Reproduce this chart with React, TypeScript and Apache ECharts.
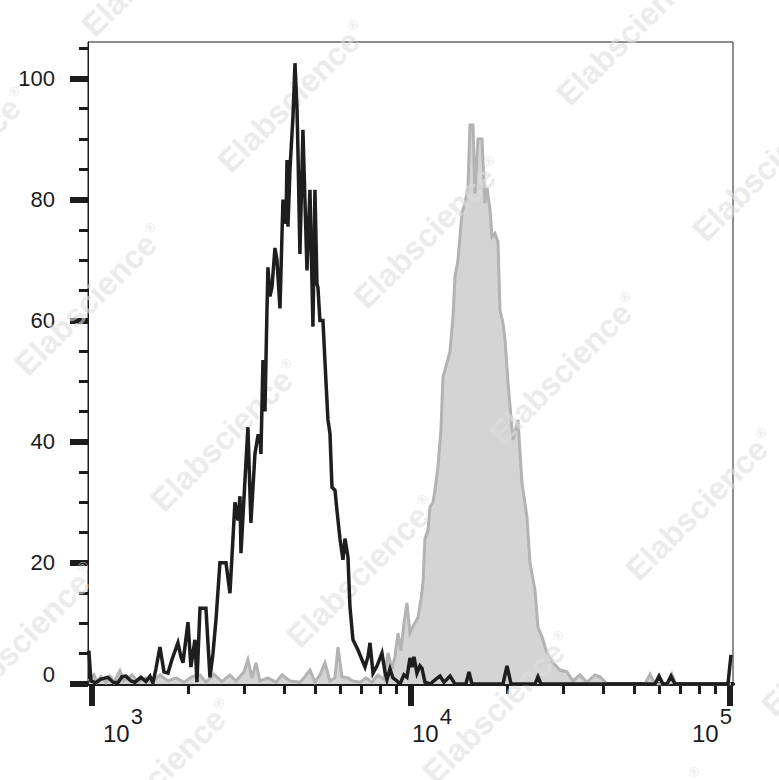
import React, { useEffect, useRef } from "react";
import * as echarts from "echarts";

// ---- axis ticks (intensity values / counts) ----
const X_MAJOR = [1000, 10000, 100000];
const X_MINOR = [2000, 3000, 4000, 5000, 6000, 7000, 8000, 9000, 20000, 30000, 40000, 50000, 60000, 70000, 80000, 90000];
const Y_MAJOR = [0, 20, 40, 60, 80, 100];
const Y_MINOR = [5, 10, 15, 25, 30, 35, 45, 50, 55, 65, 70, 75, 85, 90, 95, 105];
const X_MIN = 972;
const X_MAX = 102200;
const Y_MAX = 106;

// ---- black histogram (control, outline only) ----
const BLACK_X = [978, 993, 1029, 1067, 1122, 1164, 1206, 1242, 1278, 1325, 1364, 1424, 1477, 1520, 1553, 1587, 1634, 1682, 1731, 1781, 1860, 1901, 1929, 2000, 2043, 2103, 2134, 2181, 2277, 2344, 2395, 2448, 2519, 2631, 2708, 2767, 2807, 2869, 2911, 2932, 3018, 3083, 3150, 3243, 3314, 3362, 3387, 3436, 3486, 3537, 3562, 3614, 3667, 3747, 3802, 3885, 3970, 4057, 4087, 4116, 4176, 4267, 4330, 4393, 4424, 4487, 4586, 4652, 4721, 4824, 4929, 5001, 5074, 5110, 5184, 5298, 5414, 5493, 5573, 5655, 5779, 5861, 5990, 6121, 6211, 6346, 6440, 6580, 6823, 7023, 7177, 7334, 7441, 7604, 7827, 8112, 8289, 8410, 8595, 8783, 9040, 9237, 9508, 9716, 9929, 10072, 10219, 10442, 10671, 10826, 11063, 11470, 11980, 12330, 12690, 13260, 13740, 14870, 15200, 15530, 19430, 20000, 20590, 24480, 25010, 25560, 58210, 59910, 61660, 63450, 65310, 67230, 98560, 100720];
const BLACK_Y = [5.5, 0.5, 0.2, 0.8, 1.1, 0.3, 0.2, 1.2, 1.3, 0.5, 0.3, 1.1, 0.4, 1.3, 0.2, 2.5, 6.1, 2.0, 1.8, 4.0, 6.8, 4.5, 3.5, 10.2, 2.8, 7.3, 0.3, 12.5, 12.5, 1.1, 5.0, 10.6, 20, 20, 15, 24, 30, 27, 31, 21.6, 33.7, 42.4, 26.6, 38, 41, 41, 38, 53.5, 45, 61.7, 68.8, 64, 65.5, 72, 70, 62, 80, 76, 86.5, 75.5, 85, 93.6, 102.5, 95, 88, 71, 91.5, 80, 68.3, 81.6, 59, 81.6, 66, 65.5, 60, 60, 50, 43.6, 41.4, 32.5, 32, 28.7, 24, 20.5, 24, 21, 12.7, 7.3, 5.6, 4, 2.8, 4.5, 6.8, 1.8, 3.0, 5.1, 2.0, 0.7, 2.5, 1.0, 0.5, 0, 1.5, 1.1, 4.3, 2.8, 4.5, 1.8, 3.0, 2.6, 0.3, 0, 0.8, 1.3, 0.3, 1.3, 0, 0, 2.0, 0, 0, 3.0, 0, 0, 1.2, 0, 0, 1.3, 0, 0, 1.3, 0, 0, 4.8];

// ---- grey histogram (stained sample, filled) ----
const GREY_X = [978, 1015, 1037, 1067, 1106, 1139, 1172, 1224, 1260, 1335, 1394, 1477, 1542, 1634, 1731, 1834, 1943, 2059, 2181, 2277, 2412, 2556, 2708, 2827, 2996, 3083, 3174, 3267, 3362, 3562, 3774, 3941, 4176, 4487, 4652, 4824, 5001, 5184, 5376, 5573, 5779, 5904, 6076, 6346, 6580, 6921, 7227, 7547, 7880, 8230, 8472, 8718, 8909, 9104, 9304, 9508, 9716, 9929, 10146, 10518, 10750, 10905, 11063, 11305, 11470, 11722, 11890, 12150, 12417, 12598, 12968, 13260, 13545, 13740, 14040, 14455, 14770, 15090, 15310, 15650, 15870, 16220, 16700, 17060, 17310, 17690, 17950, 18340, 18740, 19010, 19430, 19710, 20150, 20880, 21650, 22280, 23100, 23610, 24480, 25010, 25750, 26690, 27880, 29320, 30830, 32200, 33870, 35620, 37740, 39130, 41160, 54140, 56140, 58210, 63910, 65800, 67720, 100720];
const GREY_Y = [0.5, 1.5, 0.3, 1.2, 0.2, 1.3, 0.3, 2.2, 0.5, 1.5, 0.3, 1.0, 0.3, 1.5, 0.5, 1.0, 0.3, 1.2, 1.5, 0.3, 1.6, 0.4, 1.5, 0.5, 2.0, 4.0, 1.0, 3.5, 0.5, 1.0, 0.3, 1.5, 0.5, 0.3, 1.2, 2.3, 0.3, 1.5, 3.5, 0.5, 1.0, 6.1, 1.2, 1.0, 0.5, 0.3, 1.0, 0.3, 1.5, 0.8, 5.1, 2.5, 4.5, 8.4, 5.5, 10, 13.4, 8.4, 9.5, 11, 14, 16.7, 24, 25.4, 29.2, 30, 32, 35.8, 42, 50.7, 53, 55, 60.6, 67.2, 70, 77.8, 79.4, 82, 92.3, 92.3, 81, 90, 90, 79.4, 82, 78.3, 73.8, 74.4, 73, 61.7, 59.6, 57, 49.7, 40.3, 43.6, 33.2, 27.6, 20, 15.5, 9.4, 7.8, 5.1, 3.5, 2.3, 2.0, 0.5, 1.5, 0.3, 1.5, 1.2, 0, 0, 1.6, 0, 0, 1.6, 0, 0];

const WATERMARK = "Elabscience";

const lg = (v: number) => Math.log10(v);

export default function App() {
  const ref = useRef<HTMLDivElement>(null);

  useEffect(() => {
    if (!ref.current) return;
    const chart = echarts.init(ref.current, undefined, { renderer: "svg" });

    const ink = "#1c1c1c";
    const font = '"Liberation Sans", Arial, sans-serif';

    // watermark lattice (as in the reference, copies at the page edges are cut)
    const wm: any[] = [];
    for (let i = -3; i <= 5; i++) {
      for (let j = -3; j <= 4; j++) {
        const cx = 90 + 136 * i + 203 * j;
        const cy = 300 + 136 * i - 203 * j;
        if (cx > -130 && cx < 910 && cy > -130 && cy < 910) {
          wm.push({
            type: "text",
            x: cx,
            y: cy,
            rotation: Math.PI / 4,
            z: 2,
            silent: true,
            style: {
              text: "{a|" + WATERMARK + "}{r|®}",
              align: "center",
              verticalAlign: "middle",
              rich: {
                a: { fontSize: 32, fontWeight: "bold", fontFamily: font, fill: "rgba(222,222,222,0.6)" },
                r: { fontSize: 14, fontWeight: "bold", fontFamily: font, fill: "rgba(222,222,222,0.6)", padding: [0, 0, 18, 2] },
              },
            },
          });
        }
      }
    }

    const xRich: any = {};
    const xPad: Record<number, [number, number]> = { 3: [62, 0], 4: [42, 0], 5: [0, 36] };
    [3, 4, 5].forEach((e) => {
      xRich["b" + e] = { fontSize: 24, fontFamily: font, color: ink, padding: [0, 0, 0, xPad[e][0]] };
      xRich["s" + e] = { fontSize: 22, fontFamily: font, color: ink, padding: [0, xPad[e][1], 34, 1] };
    });

    const option: any = {
      animation: false,
      backgroundColor: "#ffffff",
      grid: { left: 88, right: 46, top: 42, bottom: 96, show: true, borderColor: ink, borderWidth: 1, backgroundColor: "transparent" },
      xAxis: [
        {
          type: "value",
          min: lg(X_MIN),
          max: lg(X_MAX),
          position: "bottom",
          axisLine: { show: true, onZero: false, lineStyle: { color: ink, width: 4 } },
          axisTick: { show: true, customValues: X_MAJOR.map(lg), length: 22, lineStyle: { color: ink, width: 6 } },
          axisLabel: {
            show: true,
            customValues: X_MAJOR.map(lg),
            margin: 21,
            formatter: (v: number) => {
              const e = Math.round(v);
              return "{b" + e + "|10}{s" + e + "|" + e + "}";
            },
            rich: xRich,
          },
          splitLine: { show: false },
        },
        {
          type: "value",
          min: lg(X_MIN),
          max: lg(X_MAX),
          position: "bottom",
          axisLine: { show: false, onZero: false },
          axisTick: { show: true, customValues: X_MINOR.map(lg), length: 10, lineStyle: { color: ink, width: 3 } },
          axisLabel: { show: false },
          splitLine: { show: false },
        },
      ],
      yAxis: [
        {
          type: "value",
          min: 0,
          max: Y_MAX,
          position: "left",
          axisLine: { show: true, onZero: false, lineStyle: { color: ink, width: 1 } },
          axisTick: { show: true, customValues: Y_MAJOR, length: 18, lineStyle: { color: ink, width: 6 } },
          axisLabel: {
            show: true,
            customValues: Y_MAJOR,
            margin: 33,
            formatter: (v: number) => (v === 0 ? "{z|0}" : "{n|" + v + "}"),
            rich: {
              z: { fontSize: 22, fontFamily: font, color: ink, padding: [0, 0, 20, 0] },
              n: { fontSize: 22, fontFamily: font, color: ink },
            },
          },
          splitLine: { show: false },
        },
        {
          type: "value",
          min: 0,
          max: Y_MAX,
          position: "left",
          axisLine: { show: false, onZero: false },
          axisTick: { show: true, customValues: Y_MINOR, length: 9, lineStyle: { color: ink, width: 3 } },
          axisLabel: { show: false },
          splitLine: { show: false },
        },
      ],
      graphic: { elements: wm },
      series: [
        {
          name: "stained",
          type: "line",
          xAxisIndex: 0,
          yAxisIndex: 0,
          z: 1,
          showSymbol: false,
          symbol: "none",
          clip: true,
          data: GREY_X.map((x, i) => [lg(x), GREY_Y[i]]),
          lineStyle: { color: "#b3b3b3", width: 3, join: "miter" },
          areaStyle: { color: "#d4d4d4", opacity: 1 },
        },
        {
          name: "control",
          type: "line",
          xAxisIndex: 0,
          yAxisIndex: 0,
          z: 3,
          showSymbol: false,
          symbol: "none",
          clip: true,
          data: BLACK_X.map((x, i) => [lg(x), BLACK_Y[i]]),
          lineStyle: { color: "#1e1e1e", width: 3.5, join: "miter" },
        },
      ],
    };

    chart.setOption(option);
    return () => chart.dispose();
  }, []);

  return (
    <div
      ref={ref}
      style={{ position: "fixed", left: 0, top: 0, width: 779, height: 780, background: "#fff" }}
    />
  );
}
